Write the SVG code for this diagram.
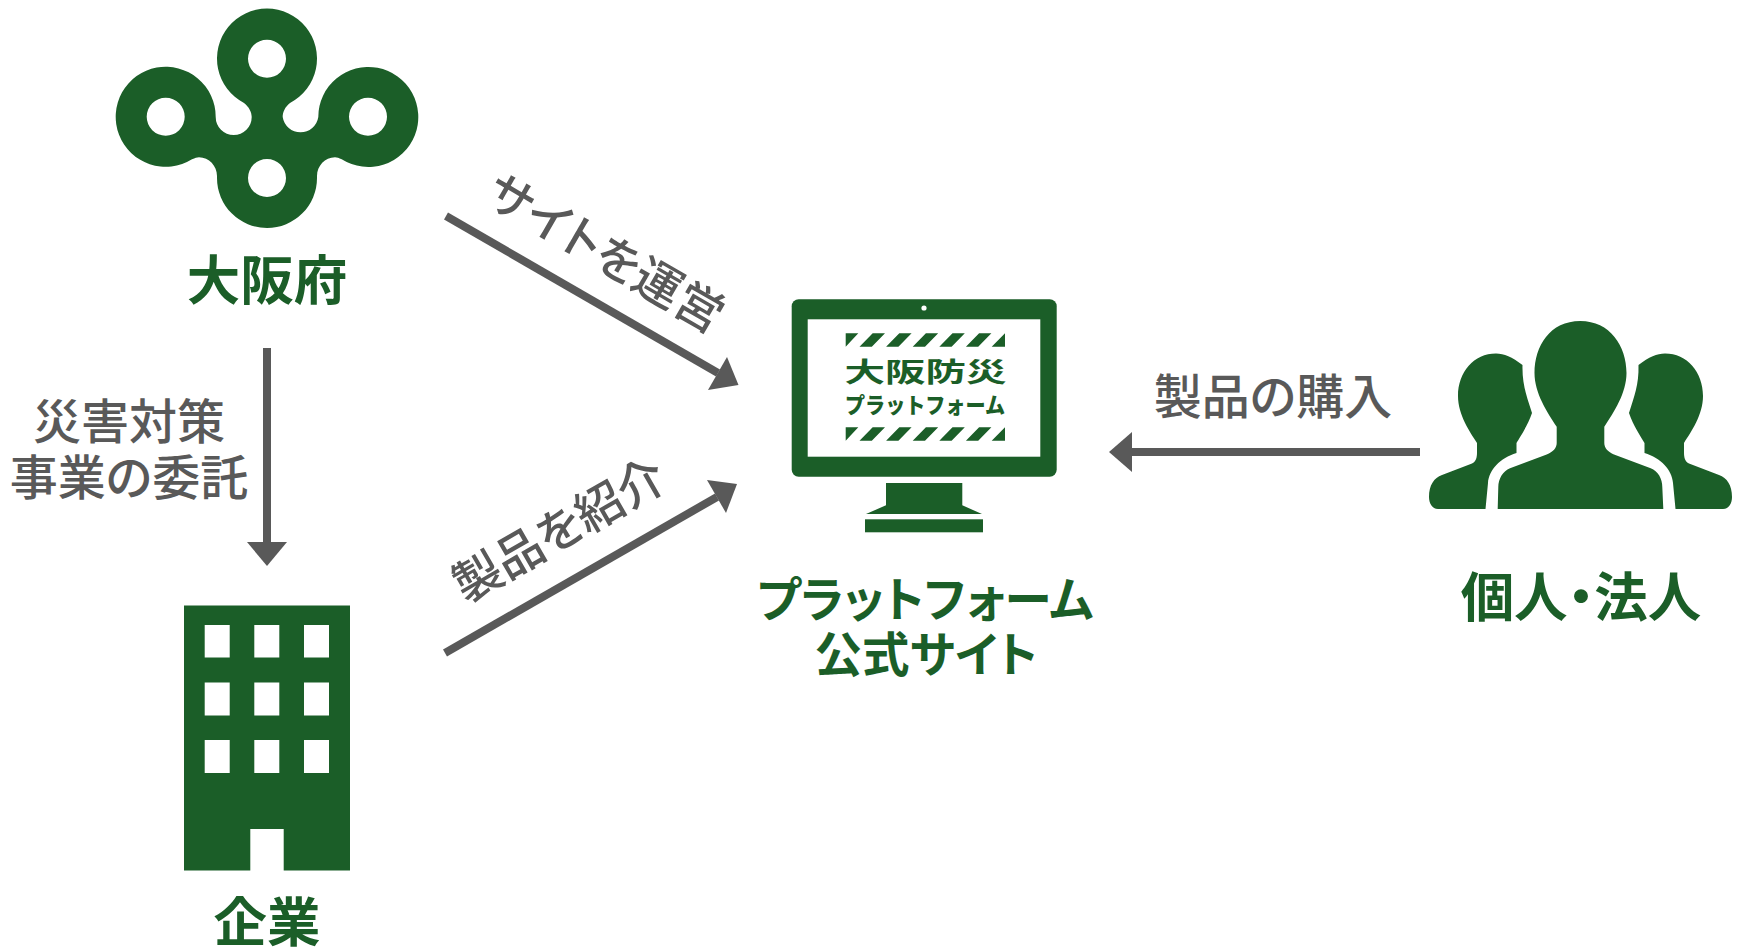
<svg xmlns="http://www.w3.org/2000/svg" width="1739" height="947" viewBox="0 0 1739 947">
<style>
.g{fill:#1b5e28}
.w{fill:#fff}
.t{font-family:"Noto Sans CJK JP","Noto Sans",sans-serif;text-anchor:middle}
.n{font-size:53.500px;font-weight:700;fill:#1b5e28;font-feature-settings:"palt"}
.p{font-size:47.500px;font-weight:700;fill:#1b5e28;font-feature-settings:"palt"}
.l{font-size:48px;font-weight:500;fill:#595959;font-feature-settings:"palt"}
.c{stroke:#595959;stroke-width:8;fill:none}
.h{fill:#595959}
</style>
<rect width="1739" height="947" fill="#fff"/>
<g id="connectors">
<path class="c" d="M267 348V545"/><path class="h" d="M247 542H287L267 566Z"/>
<path class="c" d="M446 216L718 373"/><path class="h" d="M727 357L738.500 385L708 390Z"/>
<path class="c" d="M445 653L717 497"/><path class="h" d="M707 480L737 484L726 513Z"/>
<path class="c" d="M1420 452H1130"/><path class="h" d="M1132 432V472L1109 452Z"/>
</g>
<g id="label-itaku">
<text class="t l" x="129" y="439">災害対策</text>
<text class="t l" x="129" y="495">事業の委託</text>
</g>
<text id="label-unei" class="t l" transform="translate(597 268) rotate(30)">サイトを運営</text>
<text id="label-shokai" class="t l" transform="translate(568 545) rotate(-30)">製品を紹介</text>
<text id="label-konyu" class="t l" x="1273" y="414">製品の購入</text>
<g id="osaka">
<path class="g" fill-rule="evenodd" d="M244 103A50 50 0 1 1 290 103C285 107 282.700 112 282.700 117A18 18 0 0 0 318.300 117A50 50 0 1 1 341.700 159.300C339 158 337 157.300 335 157.300C325 157.300 317 166 317 176V178A50 50 0 0 1 217 178V176C217 166 209 157.300 199 157.300C197 157.300 195 158 192 159.300A50 50 0 1 1 215.700 117A18 18 0 0 0 251.700 117C251.700 112 249 107 244 103ZM286 58.700A19 19 0 1 0 248 58.700A19 19 0 1 0 286 58.700ZM184.700 116.700A19 19 0 1 0 146.700 116.700A19 19 0 1 0 184.700 116.700ZM387 116.700A19 19 0 1 0 349 116.700A19 19 0 1 0 387 116.700ZM286 178A19 19 0 1 0 248 178A19 19 0 1 0 286 178Z"/>
<text class="t n" x="267" y="300">大阪府</text>
</g>
<g id="kigyo">
<path class="g" d="M184 605.500H350V870.500H283.700V829H250.300V870.500H184Z"/>
<rect class="w" x="204.700" y="625" width="25" height="32.500"/><rect class="w" x="254.300" y="625" width="25" height="32.500"/><rect class="w" x="304" y="625" width="25" height="32.500"/>
<rect class="w" x="204.700" y="682.500" width="25" height="33"/><rect class="w" x="254.300" y="682.500" width="25" height="33"/><rect class="w" x="304" y="682.500" width="25" height="33"/>
<rect class="w" x="204.700" y="740" width="25" height="33"/><rect class="w" x="254.300" y="740" width="25" height="33"/><rect class="w" x="304" y="740" width="25" height="33"/>
<text class="t n" x="267" y="942">企業</text>
</g>
<g id="platform">
<rect class="g" x="791.700" y="299.300" width="265" height="177.500" rx="7"/>
<rect class="w" x="807.700" y="319.300" width="232.600" height="137.400"/>
<circle class="w" cx="924" cy="308" r="2.600"/>
<path class="g" d="M886 483H962.300V505.300L982 514H866L886 505.300Z"/>
<rect class="g" x="865" y="519.300" width="118" height="13"/>
<text class="t" x="925.500" y="382" font-size="27" font-weight="700" fill="#1b5e28" textLength="162" lengthAdjust="spacingAndGlyphs">大阪防災</text>
<text class="t" x="925" y="413" font-size="22" font-weight="900" fill="#1b5e28" textLength="160" lengthAdjust="spacingAndGlyphs">プラットフォーム</text>
<path class="g" d="M845.700 333.300H858.300L845.700 346.700ZM859.500 346.700L872.700 333.300H885L871.800 346.700ZM886.100 346.700L899.300 333.300H911.600L898.400 346.700ZM912.700 346.700L925.900 333.300H938.200L925 346.700ZM939.300 346.700L952.500 333.300H964.800L951.600 346.700ZM965.900 346.700L979.100 333.300H991.400L978.200 346.700ZM991.700 346.700L1005 333.300V346.700Z"/>
<path class="g" d="M845.700 427.300H858.300L845.700 440.700ZM859.500 440.700L872.700 427.300H885L871.800 440.700ZM886.100 440.700L899.300 427.300H911.600L898.400 440.700ZM912.700 440.700L925.900 427.300H938.200L925 440.700ZM939.300 440.700L952.500 427.300H964.800L951.600 440.700ZM965.900 440.700L979.100 427.300H991.400L978.200 440.700ZM991.700 440.700L1005 427.300V440.700Z"/>
<text class="t p" x="925" y="617">プラットフォーム</text>
<text class="t p" x="926" y="672">公式サイト</text>
</g>
<g id="kojin">
<path class="g" d="M1580.300 321C1610 321 1626.500 346 1626.500 373C1626.500 393 1614 412 1604.300 426.700V443C1604.300 448 1608 452 1614 454.500L1650.700 468.300C1658 471 1662.300 479 1662.300 487L1663.300 509H1497.700L1498.300 487C1498.300 479 1503 471 1510 468.300L1546.700 454.500C1553 452 1556.700 448 1556.700 443V426.700C1547 412 1534.500 393 1534.500 373C1534.500 346 1550 321 1580.300 321Z"/>
<path class="g" d="M1496 353.500C1504 353.500 1512 357 1522.500 365C1522 385 1527 397 1532 413C1528 425 1520 437 1516.500 443V453C1500 458 1489 470 1488 483L1485.500 509H1438C1432 509 1429 503 1429 497C1429 485 1434 478 1442 475L1472 463.500C1476 462 1477 457 1477 453V443C1470 432 1458 415 1458 396C1458 372 1474 353.500 1496 353.500Z"/>
<path class="g" d="M1665 353.500C1657 353.500 1649 357 1638.500 365C1639 385 1634 397 1629 413C1633 425 1641 437 1644.500 443V453C1661 458 1672 470 1673 483L1675.500 509H1723C1729 509 1732 503 1732 497C1732 485 1727 478 1719 475L1689 463.500C1685 462 1684 457 1684 453V443C1691 432 1703 415 1703 396C1703 372 1687 353.500 1665 353.500Z"/>
<text class="t n" x="1581" y="617">個人・法人</text>
</g>
</svg>
